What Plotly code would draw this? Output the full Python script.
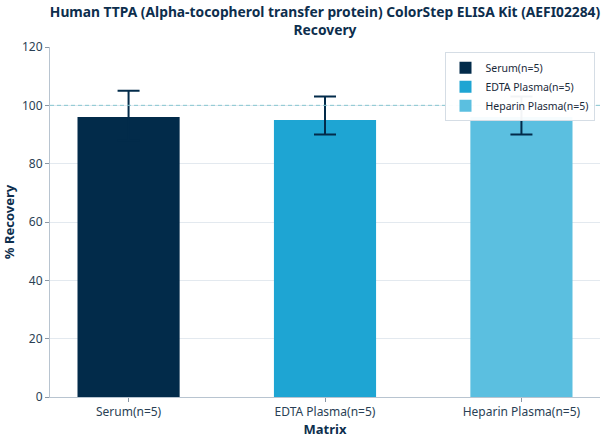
import plotly.graph_objects as go

categories = ["Serum(n=5)", "EDTA Plasma(n=5)", "Heparin Plasma(n=5)"]
recovery = [96, 95, 96]
err_plus = [9, 8, 7]
err_minus = [8, 5, 6]
colors = ["#022b4a", "#1ea5d3", "#5bbfe0"]

fig = go.Figure()
for i, cat in enumerate(categories):
    fig.add_trace(go.Bar(
        x=[cat], y=[recovery[i]], name=cat,
        marker=dict(color=colors[i], line=dict(width=0)),
        width=0.52,
        error_y=dict(type="data", symmetric=False, array=[err_plus[i]],
                     arrayminus=[err_minus[i]], color="#022b4a",
                     thickness=2, width=11),
    ))

fig.add_hline(y=100, line=dict(color="#86c6d1", width=1, dash="4px,3px"), layer="above")

fig.update_layout(
    width=608, height=442,
    margin=dict(l=50, r=8, t=47, b=45, autoexpand=False),
    paper_bgcolor="white", plot_bgcolor="white",
    font=dict(family="Noto Sans", color="#2a3f55", size=12),
    title=dict(
        text="<b>Human TTPA (Alpha-tocopherol transfer protein) ColorStep ELISA Kit (AEFI02284)<br>Recovery</b>",
        xref="paper", x=0.5, xanchor="center", yref="container", y=1 - 17 / 442, yanchor="middle",
        font=dict(size=13.8, color="#0d2e4d"),
    ),
    barmode="overlay",
    showlegend=True,
    legend=dict(
        x=0.99, xanchor="right", y=0.985, yanchor="top",
        bgcolor="rgba(255,255,255,0.95)", bordercolor="#d5dde5", borderwidth=1,
        font=dict(size=10.5, color="#1a2a3a"),
        itemwidth=30, tracegroupgap=0,
    ),
    xaxis=dict(
        title=dict(text="<b>Matrix</b>", font=dict(size=13, color="#0d2e4d"), standoff=2),
        range=[-0.4, 2.4], showgrid=False, showline=True, linecolor="#b8c4d0",
        ticks="outside", tickcolor="#8a97a5", ticklen=4, automargin=False,
        tickfont=dict(size=12, color="#2a3f55"),
    ),
    yaxis=dict(
        title=dict(text="<b>% Recovery</b>", font=dict(size=13, color="#0d2e4d"), standoff=6),
        range=[0, 120], dtick=20, showgrid=True, gridcolor="#e3e9ef",
        showline=True, linecolor="#b8c4d0", zeroline=False, automargin=False,
        ticks="outside", tickcolor="#8a97a5", ticklen=4,
        tickfont=dict(size=12, color="#2a3f55"),
    ),
)

fig.write_html("out.html", config={"displayModeBar": False},
               post_script="document.body.style.margin='0';")
